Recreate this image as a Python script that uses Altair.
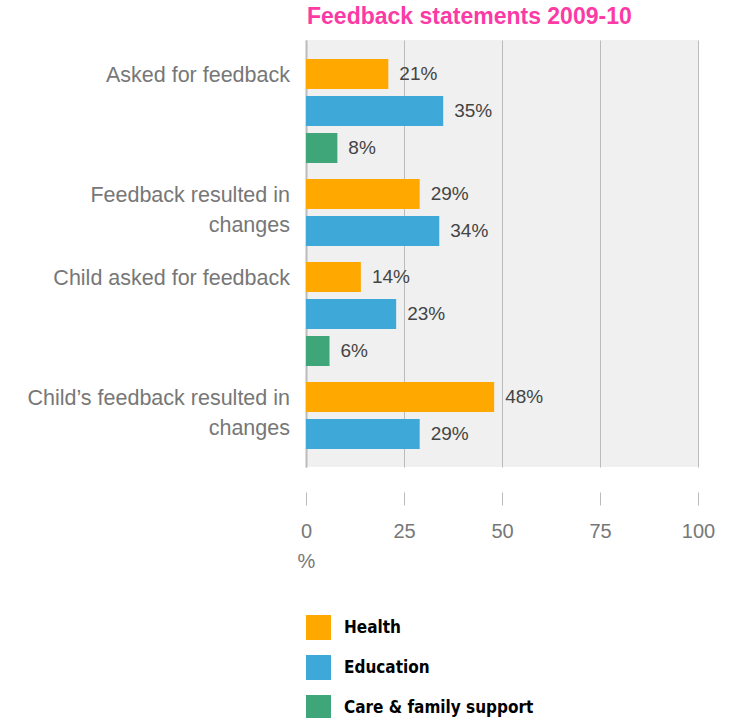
import altair as alt
import pandas as pd

# ---- data ----
title_text = "Feedback statements 2009-10"
categories = [
    "Asked for feedback",
    "Feedback resulted in\nchanges",
    "Child asked for feedback",
    "Child\u2019s feedback resulted in\nchanges",
]
series = ["Health", "Education", "Care & family support"]
health = [21, 29, 14, 48]
education = [35, 34, 23, 29]
care = [8, None, 6, None]
colors = ["#fea800", "#3ea9d8", "#3fa679"]
tick_values = [0, 25, 50, 75, 100]

# ---- layout constants (pixels) ----
BAR_H, PITCH, GROUP_GAP, TOP_PAD = 30, 37, 9, 19
PLOT_W, PLOT_H = 392, 427
FONT = "Liberation Sans"
NARROW = "DejaVu Sans Condensed, Liberation Sans, sans-serif"

rows, labels = [], []
k = 0
for g, cat in enumerate(categories):
    first = None
    for s, vals in zip(series, [health, education, care]):
        v = vals[g]
        if v is None:
            continue
        top = TOP_PAD + k * PITCH + g * GROUP_GAP
        if first is None:
            first = top
        rows.append(dict(category=cat, series=s, value=v, top=top,
                         bottom=top + BAR_H, mid=top + BAR_H / 2, label=f"{v}%"))
        k += 1
    labels.append(dict(category=cat, top=first))

bars_df = pd.DataFrame(rows)
labels_df = pd.DataFrame(labels)
title_df = pd.DataFrame({"t": [title_text]})

yscale = alt.Scale(domain=[0, PLOT_H], reverse=True, nice=False, zero=False)
xscale = alt.Scale(domain=[0, 100], nice=False)

bars = alt.Chart(bars_df).mark_rect().encode(
    x=alt.X("value:Q", scale=xscale, axis=alt.Axis(
        values=tick_values, title="%", titleAnchor="start", titleAlign="center",
        titleFont=FONT, titleFontSize=20, titleFontWeight="normal", titleColor="#777",
        titlePadding=10, labelFlush=False,
        labelFont=FONT, labelFontSize=20, labelColor="#777", labelPadding=16,
        domain=False, tickSize=13, tickColor="#bbb", tickWidth=1, offset=25,
        grid=True, gridColor="#bbb", gridWidth=1)),
    x2=alt.datum(0),
    y=alt.Y("top:Q", scale=yscale, axis=alt.Axis(
        labels=False, ticks=False, grid=False, title=None,
        domain=True, domainColor="#bbb", domainWidth=2)),
    y2="bottom:Q",
    color=alt.Color("series:N", scale=alt.Scale(domain=series, range=colors),
                    legend=alt.Legend(
                        orient="none", legendX=0, legendY=575, title=None,
                        symbolType="square", symbolSize=625, symbolStrokeWidth=0,
                        symbolOpacity=1, labelFont=NARROW, labelFontWeight="bold",
                        labelFontSize=17, labelColor="#000", labelOffset=13,
                        labelLimit=400, rowPadding=15, padding=0,
                        direction="vertical")),
)

values = alt.Chart(bars_df).mark_text(
    align="left", baseline="middle", dx=11, fontSize=19, font=FONT, color="#444"
).encode(
    x=alt.X("value:Q", scale=xscale),
    y=alt.Y("mid:Q", scale=yscale),
    text="label:N",
)

cat_labels = alt.Chart(labels_df).mark_text(
    align="right", baseline="top", lineBreak="\n", lineHeight=30,
    fontSize=21.5, font=FONT, color="#777", dy=6
).encode(
    x=alt.value(-16),
    y=alt.Y("top:Q", scale=yscale),
    text="category:N",
)

title = alt.Chart(title_df).mark_text(
    align="left", baseline="alphabetic", fontSize=23, font=FONT,
    fontWeight="bold", color="#fc3aa5"
).encode(
    x=alt.value(1),
    y=alt.value(-16),
    text="t:N",
)

chart = alt.layer(bars, values, cat_labels, title).properties(
    width=PLOT_W, height=PLOT_H,
    autosize=alt.AutoSizeParams(type="none"),
    padding={"left": 306, "top": 40, "right": 42, "bottom": 251},
).configure_view(fill="#f0f0f0", stroke=None)

chart.save("out.html", embed_options={"renderer": "svg", "actions": False})
